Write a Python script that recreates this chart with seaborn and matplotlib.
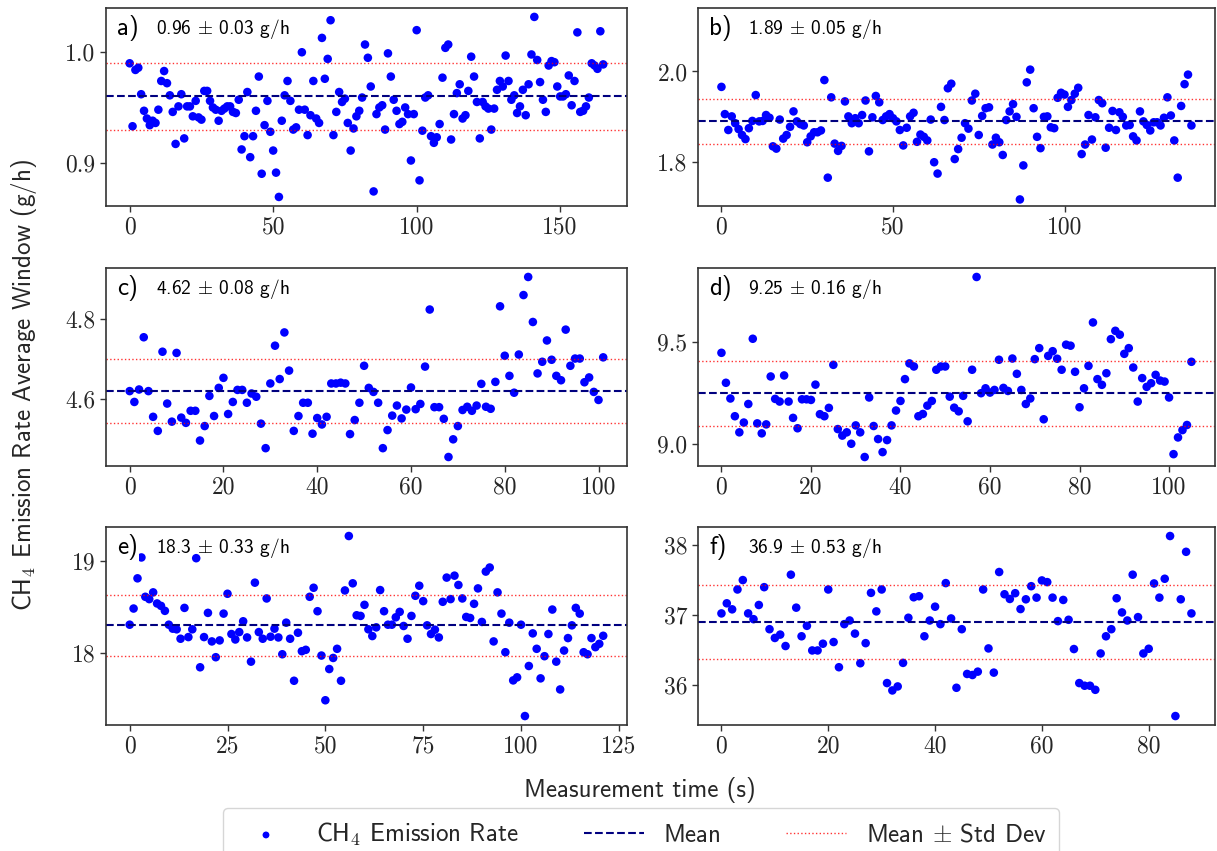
import numpy as np
import pandas as pd
import matplotlib
matplotlib.use('Agg')
import matplotlib.pyplot as plt
import seaborn as sns

# --- data (average-window CH4 emission rate, g/h) ---
rate_a = [0.990, 0.933, 0.984, 0.986, 0.962, 0.947, 0.940, 0.934, 0.938, 0.936,
          0.948, 0.974, 0.983, 0.972, 0.961, 0.946, 0.917, 0.951, 0.962, 0.922,
          0.951, 0.951, 0.942, 0.956, 0.941, 0.939, 0.965, 0.965, 0.956, 0.950,
          0.948, 0.938, 0.947, 0.949, 0.951, 0.951, 0.946, 0.945, 0.957, 0.912,
          0.924, 0.964, 0.905, 0.924, 0.947, 0.978, 0.890, 0.934, 0.956, 0.928,
          0.911, 0.891, 0.869, 0.938, 0.961, 0.974, 0.956, 0.930, 0.932, 0.948,
          1.000, 0.948, 0.925, 0.943, 0.974, 0.940, 0.936, 1.013, 0.976, 0.994,
          1.029, 0.925, 0.946, 0.964, 0.955, 0.958, 0.936, 0.911, 0.931, 0.942,
          0.947, 0.959, 1.007, 0.995, 0.969, 0.874, 0.944, 0.950, 0.952, 0.930,
          0.999, 0.978, 0.957, 0.947, 0.935, 0.937, 0.950, 0.944, 0.902, 0.944,
          1.020, 0.884, 0.929, 0.959, 0.961, 0.924, 0.918, 0.923, 0.935, 0.977,
          1.004, 1.007, 0.921, 0.944, 0.963, 0.971, 0.940, 0.943, 0.965, 0.996,
          0.978, 0.955, 0.922, 0.955, 0.951, 0.949, 0.930, 0.949, 0.966, 0.974,
          0.969, 0.997, 0.974, 0.957, 0.961, 0.945, 0.951, 0.966, 0.943, 0.971,
          0.998, 1.032, 0.993, 0.973, 0.957, 0.946, 0.988, 0.992, 0.991, 0.969,
          0.960, 0.960, 0.962, 0.979, 0.952, 0.974, 1.018, 0.946, 0.947, 0.951,
          0.959, 0.990, 0.988, 0.985, 1.019, 0.989]

rate_b = [1.966, 1.906, 1.871, 1.901, 1.886, 1.873, 1.860, 1.851, 1.875, 1.891,
          1.948, 1.890, 1.891, 1.904, 1.898, 1.835, 1.830, 1.894, 1.852, 1.860,
          1.878, 1.912, 1.890, 1.884, 1.881, 1.844, 1.857, 1.866, 1.866, 1.870,
          1.981, 1.766, 1.943, 1.841, 1.825, 1.836, 1.934, 1.901, 1.886, 1.897,
          1.886, 1.904, 1.936, 1.824, 1.899, 1.946, 1.932, 1.893, 1.901, 1.906,
          1.897, 1.890, 1.871, 1.837, 1.876, 1.901, 1.909, 1.845, 1.861, 1.856,
          1.848, 1.894, 1.800, 1.775, 1.922, 1.893, 1.963, 1.973, 1.807, 1.829,
          1.854, 1.886, 1.874, 1.936, 1.951, 1.860, 1.902, 1.919, 1.921, 1.839,
          1.854, 1.844, 1.816, 1.893, 1.912, 1.928, 1.900, 1.718, 1.793, 1.976,
          2.004, 1.919, 1.856, 1.831, 1.900, 1.901, 1.877, 1.875, 1.942, 1.953,
          1.949, 1.922, 1.937, 1.951, 1.964, 1.818, 1.839, 1.904, 1.850, 1.899,
          1.937, 1.930, 1.832, 1.876, 1.913, 1.871, 1.910, 1.900, 1.881, 1.882,
          1.857, 1.848, 1.912, 1.890, 1.882, 1.870, 1.888, 1.888, 1.881, 1.898,
          1.943, 1.903, 1.848, 1.766, 1.924, 1.972, 1.993, 1.881]

rate_c = [4.620, 4.593, 4.624, 4.754, 4.620, 4.556, 4.521, 4.718, 4.589, 4.544,
          4.715, 4.554, 4.541, 4.571, 4.571, 4.497, 4.533, 4.608, 4.558, 4.628,
          4.653, 4.563, 4.593, 4.623, 4.623, 4.591, 4.614, 4.606, 4.539, 4.478,
          4.639, 4.733, 4.650, 4.766, 4.671, 4.521, 4.558, 4.591, 4.591, 4.514,
          4.553, 4.537, 4.556, 4.639, 4.639, 4.641, 4.639, 4.513, 4.548, 4.591,
          4.683, 4.628, 4.618, 4.591, 4.478, 4.523, 4.559, 4.584, 4.552, 4.574,
          4.629, 4.575, 4.588, 4.681, 4.823, 4.580, 4.580, 4.551, 4.456, 4.500,
          4.533, 4.573, 4.581, 4.571, 4.584, 4.638, 4.581, 4.576, 4.643, 4.831,
          4.708, 4.658, 4.616, 4.711, 4.859, 4.904, 4.792, 4.664, 4.693, 4.746,
          4.698, 4.658, 4.647, 4.773, 4.683, 4.701, 4.701, 4.642, 4.654, 4.618,
          4.598, 4.704]

rate_d = [9.449, 9.302, 9.225, 9.138, 9.059, 9.107, 9.198, 9.518, 9.103, 9.054,
          9.098, 9.333, 9.223, 9.210, 9.338, 9.210, 9.130, 9.079, 9.221, 9.221,
          9.218, 9.293, 9.148, 9.138, 9.179, 9.390, 9.075, 9.043, 9.059, 9.003,
          9.093, 9.059, 8.938, 9.230, 9.090, 9.026, 8.962, 9.021, 9.093, 9.166,
          9.213, 9.320, 9.397, 9.382, 9.138, 9.149, 9.190, 9.213, 9.366, 9.382,
          9.382, 9.234, 9.180, 9.162, 9.238, 9.113, 9.366, 9.821, 9.251, 9.275,
          9.254, 9.267, 9.415, 9.277, 9.262, 9.421, 9.346, 9.267, 9.198, 9.225,
          9.418, 9.472, 9.123, 9.434, 9.457, 9.420, 9.366, 9.489, 9.484, 9.356,
          9.182, 9.275, 9.385, 9.598, 9.320, 9.292, 9.349, 9.516, 9.557, 9.538,
          9.444, 9.472, 9.377, 9.210, 9.325, 9.282, 9.300, 9.341, 9.313, 9.308,
          9.230, 8.952, 9.034, 9.070, 9.095, 9.405]

rate_e = [18.305, 18.480, 18.807, 19.033, 18.607, 18.582, 18.655, 18.535, 18.509, 18.455,
          18.305, 18.262, 18.255, 18.153, 18.487, 18.171, 18.255, 19.025, 17.844, 18.171,
          18.433, 18.124, 17.953, 18.135, 18.425, 18.640, 18.204, 18.145, 18.225, 18.342,
          18.167, 17.905, 18.760, 18.225, 18.153, 18.589, 18.175, 18.262, 18.167, 17.985,
          18.327, 18.153, 17.698, 18.218, 18.018, 18.033, 18.607, 18.705, 18.451, 17.971,
          17.487, 17.825, 17.945, 18.044, 17.698, 18.676, 19.265, 18.753, 18.407, 18.400,
          18.520, 18.255, 18.182, 18.276, 18.680, 18.451, 18.305, 18.305, 18.385, 18.444,
          18.291, 18.153, 18.400, 18.618, 18.727, 18.560, 18.298, 18.204, 18.251, 18.167,
          18.553, 18.815, 18.582, 18.836, 18.735, 18.589, 18.389, 18.378, 18.531, 18.698,
          18.335, 18.880, 18.924, 18.124, 18.655, 18.425, 18.007, 18.327, 17.702, 17.735,
          18.305, 17.316, 17.858, 18.211, 18.044, 17.724, 17.964, 18.204, 18.469, 17.905,
          17.604, 18.025, 18.160, 18.298, 18.487, 18.425, 18.007, 17.985, 18.160, 18.062,
          18.098, 18.185]

rate_f = [37.024, 37.168, 37.082, 37.365, 37.499, 37.024, 36.942, 37.144, 37.398, 36.799,
          36.674, 36.722, 36.559, 37.576, 37.106, 36.698, 36.847, 36.496, 36.496, 36.592,
          37.365, 36.616, 36.257, 36.871, 36.923, 36.736, 36.314, 36.600, 37.317, 37.053,
          37.365, 36.031, 35.926, 35.983, 36.319, 36.962, 37.254, 37.269, 36.698, 36.923,
          37.120, 36.871, 37.456, 36.952, 35.964, 36.799, 36.161, 36.146, 36.194, 37.365,
          36.525, 36.180, 37.614, 37.297, 37.230, 37.312, 37.086, 37.225, 37.412, 37.249,
          37.494, 37.470, 37.249, 36.914, 37.216, 36.933, 36.516, 36.031, 35.993, 35.993,
          35.935, 36.453, 36.698, 36.799, 37.240, 37.038, 36.923, 37.576, 36.971, 36.453,
          36.520, 37.451, 37.249, 37.518, 38.127, 35.561, 37.225, 37.902, 37.024]

rates = [rate_a, rate_b, rate_c, rate_d, rate_e, rate_f]
panel_tags = ['a)', 'b)', 'c)', 'd)', 'e)', 'f)']
means = [0.96, 1.89, 4.62, 9.25, 18.3, 36.9]
stds = [0.03, 0.05, 0.08, 0.16, 0.33, 0.53]
mean_labels = ['0.96', '1.89', '4.62', '9.25', '18.3', '36.9']
std_labels = ['0.03', '0.05', '0.08', '0.16', '0.33', '0.53']
x_ticks = [[0, 50, 100, 150], [0, 50, 100], [0, 20, 40, 60, 80, 100],
           [0, 20, 40, 60, 80, 100], [0, 25, 50, 75, 100, 125], [0, 20, 40, 60, 80]]
y_ticks = [[0.9, 1.0], [1.8, 2.0], [4.6, 4.8], [9.0, 9.5], [18, 19], [36, 37, 38]]
y_fmt = ['{:.1f}', '{:.1f}', '{:.1f}', '{:.1f}', '{:d}', '{:d}']
y_top = [None, 2.14, None, None, None, None]  # panel b has extra headroom

sns.set_theme(style='ticks')
plt.rcParams['font.family'] = ['cmr10', 'DejaVu Serif']
plt.rcParams['mathtext.fontset'] = 'cm'
plt.rcParams['axes.formatter.use_mathtext'] = True
sans = ['cmss10', 'DejaVu Sans']

fig = plt.figure(figsize=(12.17, 8.51), dpi=100)

# axes boxes (left, bottom, width, height) in figure fractions
col_left = [0.0871, 0.5735]
col_width = [0.428, 0.4248]
row_bottom = [0.758, 0.4524, 0.148]
row_height = 0.2327

axes = []
for i, vals in enumerate(rates):
    r, c = divmod(i, 2)
    ax = fig.add_axes([col_left[c], row_bottom[r], col_width[c], row_height])
    axes.append(ax)
    df = pd.DataFrame({'t': np.arange(len(vals)), 'rate': vals})

    sns.scatterplot(data=df, x='t', y='rate', ax=ax, color='#0000ff', s=38,
                    edgecolor='none', linewidth=0, label='CH$_4$ Emission Rate', legend=False)
    ax.axhline(means[i], color='#00007f', ls='--', lw=1.5, label='Mean')
    ax.axhline(means[i] + stds[i], color='red', ls=':', lw=1.0, alpha=0.8,
               label='Mean $\\pm$ Std Dev')
    ax.axhline(means[i] - stds[i], color='red', ls=':', lw=1.0, alpha=0.8)

    if y_top[i] is not None:
        ax.set_ylim(top=y_top[i])

    ax.set_xticks(x_ticks[i])
    ax.set_xticklabels([str(v) for v in x_ticks[i]])
    ax.set_yticks(y_ticks[i])
    ax.set_yticklabels([y_fmt[i].format(v) for v in y_ticks[i]])
    ax.tick_params(labelsize=17, length=4, width=1, color='#333333')
    ax.set_xlabel('')
    ax.set_ylabel('')
    for sp in ax.spines.values():
        sp.set_color('#333333')
        sp.set_linewidth(1.2)

    ax.text(0.022, 0.965, panel_tags[i], transform=ax.transAxes, ha='left', va='top',
            fontsize=18, family=sans, color='black', zorder=5,
            bbox=dict(facecolor='white', edgecolor='none', pad=0.5))
    ax.text(0.096, 0.955, mean_labels[i] + ' $\\pm$ ' + std_labels[i] + ' g/h',
            transform=ax.transAxes, ha='left', va='top', fontsize=14, family=sans,
            color='black', zorder=5)

fig.text(0.526, 0.072, 'Measurement time (s)', ha='center', va='center',
         fontsize=18, family=sans)
fig.text(0.02, 0.547, 'CH$_4$ Emission Rate Average Window (g/h)', ha='center',
         va='center', rotation=90, fontsize=18, family=sans)

handles, labels = axes[0].get_legend_handles_labels()
leg = fig.legend(handles, labels, loc='upper center', bbox_to_anchor=(0.527, 0.0505),
                 ncol=3, frameon=True, fancybox=True, markerscale=0.8,
                 handlelength=2.4, columnspacing=2.6, borderpad=0.5, borderaxespad=0,
                 prop={'family': sans, 'size': 18})
leg.get_frame().set_edgecolor('#cccccc')
leg.get_frame().set_linewidth(1.0)

fig.savefig('out.png', dpi=100)
